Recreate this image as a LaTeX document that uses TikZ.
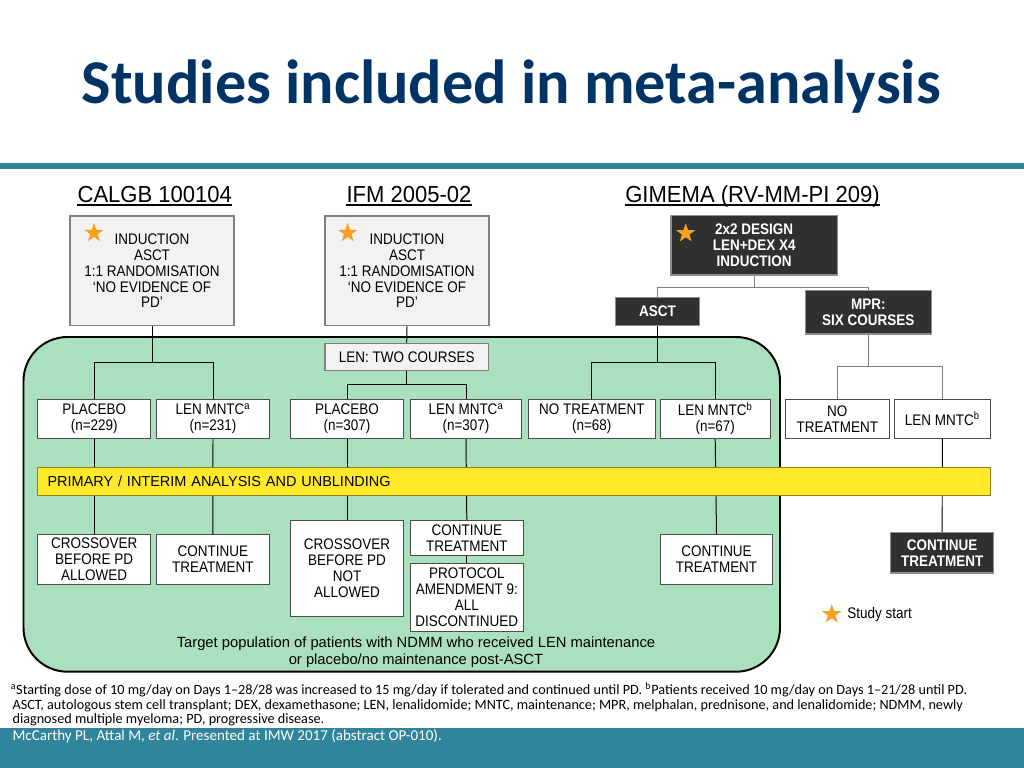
\documentclass[tikz,border=0pt]{standalone}
\usepackage{fontspec}
\setmainfont{Liberation Sans}
\newfontfamily\diagfont{Liberation Sans}[FakeStretch=0.88]
\newfontfamily\headfont{Liberation Sans}[FakeStretch=0.95]
\newfontfamily\slidefont{Carlito}
\usetikzlibrary{shapes.geometric, positioning, calc}

\definecolor{titleblue}{RGB}{0, 51, 102}
\definecolor{slideteal}{RGB}{49, 133, 155}
\definecolor{popgreen}{RGB}{171, 224, 190}
\definecolor{baryellow}{RGB}{255, 233, 40}
\definecolor{barolive}{RGB}{140, 128, 30}
\definecolor{starorange}{RGB}{247, 160, 30}
\definecolor{boxgray}{RGB}{242, 242, 242}
\definecolor{darkbox}{RGB}{48, 48, 48}

\newcommand{\boxfont}{\diagfont\fontsize{10.9}{11.3}\selectfont}
\newcommand{\notefont}{\slidefont\fontsize{10.1}{10.5}\selectfont}

\tikzset{
  boxsize/.style 2 args={minimum width=#1*0.025cm, minimum height=#2*0.025cm},
  wbox/.style={draw=black!70, fill=white, line width=0.6pt, inner sep=0pt, align=center, font=\boxfont},
  gbox/.style={draw=black!50, fill=boxgray, line width=0.8pt, inner sep=0pt, align=center, font=\boxfont},
  dbox/.style={draw=black!45, fill=darkbox, line width=0.8pt, inner sep=0pt, align=center, text=white, font=\boxfont\bfseries},
  studyhead/.style={inner sep=0pt, anchor=base, font=\headfont\fontsize{16.5}{18}\selectfont},
  link/.style={draw=black, line width=0.7pt},
  glink/.style={draw=black!50, line width=0.7pt},
  studystar/.style={star, star points=5, star point ratio=2.5, fill=starorange, inner sep=0pt, minimum size=0.5cm},
}

\begin{document}
\begin{tikzpicture}[x=0.025cm, y=-0.025cm]
  \useasboundingbox (0,0) rectangle (1024,768);
  \fill[white] (0,0) rectangle (1024,768);

  % Slide title and rules
  \node[font=\slidefont\bfseries\fontsize{44.3}{50}\selectfont, text=titleblue, anchor=base] (title) at (511.2,104) {Studies included in meta-analysis};
  \fill[slideteal] (0,163.3) rectangle (1024,169);
  \fill[slideteal] (0,728) rectangle (1024,768);

  % Target population area
  \draw[line width=1.4pt, fill=popgreen, rounded corners=1.1cm] (23.5,337) rectangle (780,671.7);

  % Study headings
  \node[studyhead] (calgbhead) at (154.8,202.3) {CALGB 100104};
  \node[studyhead] (ifmhead) at (409,202.3) {IFM 2005-02};
  \node[studyhead] (gimhead) at (752.5,202.3) {GIMEMA (RV-MM-PI 209)};
  \foreach \h in {calgbhead, ifmhead, gimhead}
    \draw[line width=0.8pt] ($(\h.base west)+(0,2.7)$) -- ($(\h.base east)+(0,2.7)$);

  % Induction boxes
  \node[gbox, boxsize={164}{109.7}] (calgbbox) at (152,270.8) {INDUCTION\\ASCT\\1:1 RANDOMISATION\\‘NO EVIDENCE OF\\PD’};
  \node[gbox, boxsize={164}{109.7}] (ifmbox) at (407,270.8) {INDUCTION\\ASCT\\1:1 RANDOMISATION\\‘NO EVIDENCE OF\\PD’};
  \node[dbox, boxsize={166.3}{59.3}] (gimbox) at (754.2,245.3) {2x2 DESIGN\\LEN+DEX X4\\INDUCTION};
  \node[dbox, boxsize={83.6}{28}] (asctbox) at (657.5,311.7) {ASCT};
  \node[dbox, boxsize={126}{43.3}] (mprbox) at (868.3,312.3) {MPR:\\SIX COURSES};
  \node[gbox, boxsize={163.3}{27}] (lenbox) at (406.7,356.8) {LEN: TWO COURSES};

  \node[studystar] (calgbstar) at (94,233) {};
  \node[studystar] (ifmstar) at (347.7,233) {};
  \node[studystar] (gimstar) at (685.7,233.3) {};

  % Randomised arms
  \node[wbox, boxsize={113}{39.7}] (plac1) at (94.2,418.8) {PLACEBO\\(n=229)};
  \node[wbox, boxsize={112.6}{39.7}] (lenm1) at (213,418.8) {LEN MNTC\textsuperscript{a}\\(n=231)};
  \node[wbox, boxsize={112.6}{39.7}] (plac2) at (347,418.8) {PLACEBO\\(n=307)};
  \node[wbox, boxsize={111}{39.7}] (lenm2) at (466,418.8) {LEN MNTC\textsuperscript{a}\\(n=307)};
  \node[wbox, boxsize={126.3}{39.7}] (notr3) at (591.8,418.8) {NO TREATMENT\\(n=68)};
  \node[wbox, boxsize={109.7}{39.7}] (lenm3) at (715.2,418.8) {LEN MNTC\textsuperscript{b}\\(n=67)};
  \node[wbox, boxsize={103.3}{39.7}] (notr4) at (837.3,418.8) {NO\\TREATMENT};
  \node[wbox, boxsize={96}{39.7}] (lenm4) at (942.3,418.8) {LEN MNTC\textsuperscript{b}};

  % After unblinding
  \node[wbox, boxsize={113}{49.7}] (cross1) at (94.2,559.2) {CROSSOVER\\BEFORE PD\\ALLOWED};
  \node[wbox, boxsize={112.3}{49.7}] (cont1) at (212.8,559.2) {CONTINUE\\TREATMENT};
  \node[wbox, boxsize={112.6}{95.7}] (cross2) at (347,568.2) {CROSSOVER\\BEFORE PD\\NOT\\ALLOWED};
  \node[wbox, boxsize={112.3}{35.4}] (cont2) at (466.8,538) {CONTINUE\\TREATMENT};
  \node[wbox, boxsize={112.3}{68.4}] (amend2) at (466.8,597.5) {PROTOCOL\\AMENDMENT 9:\\ALL\\DISCONTINUED};
  \node[wbox, boxsize={112.4}{49.7}] (cont3) at (716.5,559.2) {CONTINUE\\TREATMENT};
  \node[dbox, boxsize={103}{40.3}] (cont4) at (942.2,552.8) {CONTINUE\\TREATMENT};

  % Connectors
  \draw[link] (calgbbox.south) -- ++(0,36.6) coordinate (calgbfork);
  \draw[link] (plac1.north) |- (calgbfork) -| (lenm1.north);
  \draw[link] (ifmbox.south) -- (lenbox.north);
  \draw[link] (lenbox.south) -- ++(0,14) coordinate (ifmfork);
  \draw[link] (plac2.north) |- (ifmfork) -| (lenm2.north);
  \draw[glink] (gimbox.south) -- ++(0,11.7) coordinate (gimfork);
  \draw[glink] (asctbox.north) |- (gimfork) -| (mprbox.north);
  \draw[link] (asctbox.south) -- ++(0,36.6) coordinate (asctfork);
  \draw[link] (notr3.north) |- (asctfork) -| (lenm3.north);
  \draw[glink] (mprbox.south) -- ++(0,32) coordinate (mprfork);
  \draw[glink] (notr4.north) |- (mprfork) -| (lenm4.north);
  \foreach \a/\b in {plac1/cross1, lenm1/cont1, plac2/cross2, lenm2/cont2, cont2/amend2, lenm3/cont3, lenm4/cont4}
    \draw[link] (\a.south) -- (\b.north);

  % Unblinding bar
  \node[draw=barolive, fill=baryellow, line width=0.8pt, boxsize={952.6}{28}, inner xsep=0.25cm, inner ysep=0pt, text width=23.315cm, align=left, font=\fontsize{10.3}{11}\selectfont] (unblind) at (514,481.7) {PRIMARY / INTERIM ANALYSIS AND UNBLINDING};

  % Target population
  \node[font=\fontsize{10.5}{11.7}\selectfont, align=center] (target) at (416,652) {Target population of patients with NDMM who received LEN maintenance\\or placebo/no maintenance post-ASCT};

  % Legend
  \node[studystar] (keystar) at (831.7,614.3) {};
  \node[font=\boxfont, right=0.12cm of keystar] (keytext) {Study start};

  % Footnotes
  \node[font=\notefont, anchor=base west, inner sep=0pt] (note1) at (10.5,694.3) {\textsuperscript{a}Starting dose of 10 mg/day on Days 1–28/28 was increased to 15 mg/day if tolerated and continued until PD. \textsuperscript{b}Patients received 10 mg/day on Days 1–21/28 until PD.};
  \node[font=\notefont, anchor=base west, inner sep=0pt] (note2) at (12.3,709.3) {ASCT, autologous stem cell transplant; DEX, dexamethasone; LEN, lenalidomide; MNTC, maintenance; MPR, melphalan, prednisone, and lenalidomide; NDMM, newly};
  \node[font=\notefont, anchor=base west, inner sep=0pt] (note3) at (12.3,723.5) {diagnosed multiple myeloma; PD, progressive disease.};
  \node[font=\slidefont\fontsize{10.7}{12}\selectfont, text=white, anchor=base west, inner sep=0pt] (source) at (12.3,740) {McCarthy PL, Attal M, \textit{et al}. Presented at IMW 2017 (abstract OP-010).};
\end{tikzpicture}
\end{document}
